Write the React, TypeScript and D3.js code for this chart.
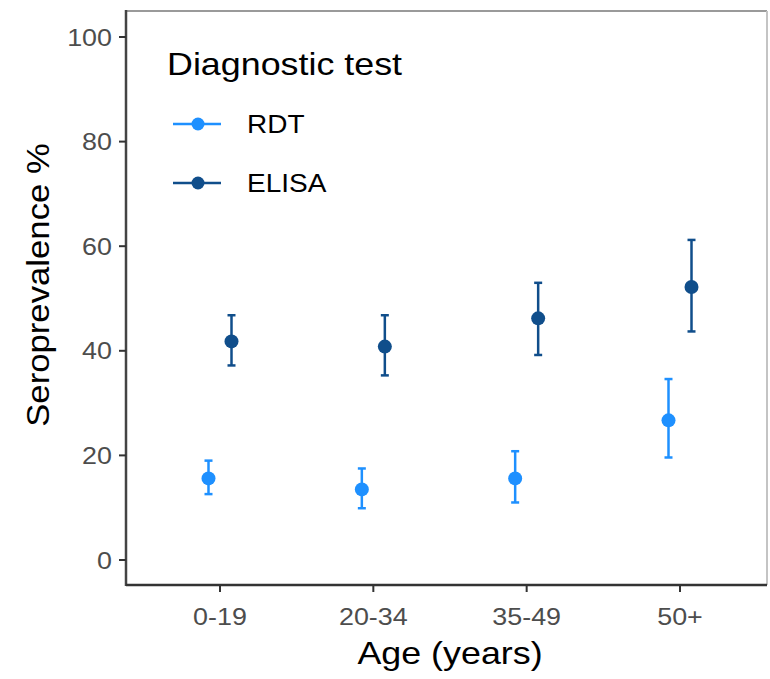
import React from "react";
import * as d3 from "d3";

const categories = ["0-19", "20-34", "35-49", "50+"];
const seriesNames = ["RDT", "ELISA"];
const seriesColors = ["#1E90FF", "#104E8B"];
const rdtEstimate = [15.6, 13.5, 15.6, 26.7];
const rdtLower = [12.6, 9.9, 11.0, 19.6];
const rdtUpper = [19.0, 17.5, 20.8, 34.6];
const elisaEstimate = [41.8, 40.8, 46.2, 52.2];
const elisaLower = [37.2, 35.3, 39.2, 43.7];
const elisaUpper = [46.8, 46.8, 53.0, 61.2];
const yTicks = [0, 20, 40, 60, 80, 100];

const W = 770;
const H = 679;
const left = 126;
const right = 767;
const top = 11;
const bottom = 585;
const SX = 1.12;

function T(props: {
  x: number;
  y: number;
  size: number;
  anchor?: string;
  fill?: string;
  rotate?: number;
  dy?: string;
  children: React.ReactNode;
}) {
  const rot = props.rotate ? ` rotate(${props.rotate})` : "";
  return (
    <text
      transform={`translate(${props.x},${props.y})${rot} scale(${SX},1)`}
      textAnchor={props.anchor || "start"}
      fontSize={props.size}
      fill={props.fill || "#000"}
      dy={props.dy}
    >
      {props.children}
    </text>
  );
}

export default function App() {
  const xc = d3.scalePoint<string>().domain(categories).range([220, 680]);
  const y = d3.scaleLinear().domain([0, 100]).range([560, 37]);
  const dodge = d3.scalePoint<string>().domain(seriesNames).range([-11.5, 11.5]);
  const series = [
    { name: "RDT", est: rdtEstimate, lo: rdtLower, hi: rdtUpper, color: seriesColors[0] },
    { name: "ELISA", est: elisaEstimate, lo: elisaLower, hi: elisaUpper, color: seriesColors[1] },
  ];
  const font = "Liberation Sans, Arial, sans-serif";
  return (
    <svg width={W} height={H} style={{ position: "absolute", left: 0, top: 0, background: "#fff" }} fontFamily={font}>
      <rect x={0} y={0} width={W} height={H} fill="#fff" />
      {/* panel frame */}
      <line x1={left} x2={right} y1={top} y2={top} stroke="#9a9a9a" strokeWidth={2} />
      <line x1={right} x2={right} y1={top} y2={bottom} stroke="#c4c4c4" strokeWidth={2} />
      <line x1={left} x2={left} y1={top - 1} y2={bottom + 1} stroke="#444" strokeWidth={2.5} />
      <line x1={left} x2={right} y1={bottom} y2={bottom} stroke="#333" strokeWidth={2.5} />
      {/* y axis */}
      {yTicks.map((t) => (
        <g key={t}>
          <line x1={left - 7} x2={left} y1={y(t)} y2={y(t)} stroke="#333" strokeWidth={2} />
          <T x={left - 14} y={y(t)} dy="0.36em" anchor="end" size={24} fill="#4d4d4d">
            {t}
          </T>
        </g>
      ))}
      {/* x axis */}
      {categories.map((c) => (
        <g key={c}>
          <line x1={xc(c)!} x2={xc(c)!} y1={bottom} y2={bottom + 7} stroke="#333" strokeWidth={2} />
          <T x={xc(c)!} y={bottom + 40} anchor="middle" size={24} fill="#4d4d4d">
            {c}
          </T>
        </g>
      ))}
      <T x={450} y={664} anchor="middle" size={32}>
        Age (years)
      </T>
      <T x={49} y={285} anchor="middle" size={31} rotate={-90}>
        Seroprevalence %
      </T>
      {/* marks */}
      {series.map((s) => (
        <g key={s.name}>
          {categories.map((c, i) => {
            const cx = xc(c)! + dodge(s.name)!;
            return (
              <g key={c}>
                <line x1={cx} x2={cx} y1={y(s.lo[i])} y2={y(s.hi[i])} stroke={s.color} strokeWidth={2.5} />
                <line x1={cx - 4} x2={cx + 4} y1={y(s.lo[i])} y2={y(s.lo[i])} stroke={s.color} strokeWidth={2.5} />
                <line x1={cx - 4} x2={cx + 4} y1={y(s.hi[i])} y2={y(s.hi[i])} stroke={s.color} strokeWidth={2.5} />
                <circle cx={cx} cy={y(s.est[i])} r={7} fill={s.color} />
              </g>
            );
          })}
        </g>
      ))}
      {/* legend */}
      <T x={167} y={75} size={32}>
        Diagnostic test
      </T>
      {series.map((s, i) => {
        const ly = 124 + i * 59;
        return (
          <g key={s.name}>
            <line x1={173} x2={221} y1={ly} y2={ly} stroke={s.color} strokeWidth={2.5} />
            <circle cx={198} cy={ly} r={6.5} fill={s.color} />
            <T x={247} y={ly} dy="0.36em" size={25}>
              {s.name}
            </T>
          </g>
        );
      })}
    </svg>
  );
}
